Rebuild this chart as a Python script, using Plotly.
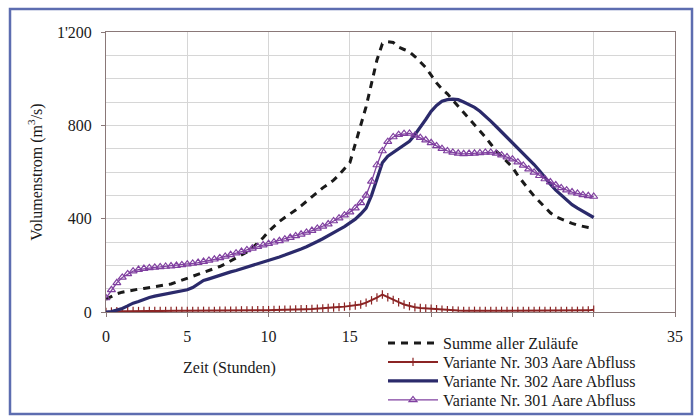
import plotly.graph_objects as go

# Values read every 1/3 hour, t = 0 ... 30 h
summe = [55, 67, 78, 85, 90, 94, 98, 101, 105, 108, 111, 115, 120, 128, 136, 145,
         153, 161, 168, 176, 185, 195, 206, 218, 230, 243, 257, 275, 295, 318, 345,
         368, 388, 405, 420, 437, 455, 475, 495, 515, 532, 548, 565, 588, 612, 640,
         720, 800, 880, 980, 1080, 1150, 1158, 1155, 1135, 1125, 1115, 1095, 1072, 1048, 1015,
         982, 955, 935, 908, 882, 855, 828, 802, 780, 750, 720, 690, 668, 645, 620,
         585, 553, 525, 497, 472, 450, 425, 408, 398, 388, 380, 372, 366, 362, 358]

v303 = [0, 2, 3, 3, 3, 4, 4, 4, 4, 4, 5, 5, 5, 5, 5, 5,
        5, 5, 5, 5, 5, 6, 6, 6, 6, 7, 7, 7, 8, 8, 8,
        9, 9, 10, 10, 11, 12, 12, 13, 14, 15, 17, 19, 21, 23, 25,
        28, 32, 40, 50, 62, 75, 63, 52, 42, 32, 25, 20, 17, 15, 14,
        12, 10, 8, 7, 6, 5, 5, 5, 5, 5, 5, 5, 5, 5, 5,
        5, 5, 5, 5, 5, 5, 5, 5, 5, 5, 5, 5, 6, 7, 10]

v302 = [0, 2, 8, 15, 26, 38, 45, 54, 62, 68, 73, 78, 82, 86, 90, 95,
        105, 120, 135, 142, 150, 158, 165, 172, 178, 185, 192, 198, 205, 212, 220,
        228, 236, 244, 252, 260, 270, 280, 290, 302, 314, 326, 340, 353, 366, 380,
        398, 420, 445, 500, 575, 640, 668, 685, 700, 715, 732, 760, 790, 825, 860,
        885, 903, 910, 912, 910, 900, 890, 877, 860, 840, 818, 795, 772, 748, 725,
        702, 678, 655, 632, 605, 575, 548, 522, 500, 480, 460, 445, 431, 418, 405]

v301 = [60, 95, 125, 148, 163, 175, 182, 186, 189, 191, 193, 195, 197, 199, 202, 205,
        208, 212, 216, 221, 226, 232, 238, 245, 252, 259, 266, 273, 280, 287, 293,
        299, 305, 312, 319, 326, 333, 341, 349, 358, 367, 377, 390, 402, 415, 428,
        445, 468, 500, 560, 630, 690, 730, 750, 760, 764, 765, 757, 747, 737, 725,
        712, 700, 690, 684, 680, 678, 679, 680, 682, 684, 684, 680, 672, 664, 655,
        642, 628, 612, 598, 584, 570, 557, 544, 532, 522, 514, 508, 502, 498, 495]

zeit = [k / 3 for k in range(len(v301))]

series_names = ["Summe aller Zuläufe", "Variante Nr. 303 Aare Abfluss",
                "Variante Nr. 302 Aare Abfluss", "Variante Nr. 301 Aare Abfluss"]

y_tickvals = [0, 400, 800, 1200]
y_ticktext = ["0", "400", "800", "1'200"]
x_tickvals = [0, 5, 10, 15, 20, 25, 30, 35]
x_ticktext = ["0", "5", "10", "15", "", "", "", "35"]

SERIF = "Liberation Serif, Times New Roman, serif"

fig = go.Figure()
fig.add_trace(go.Scatter(x=zeit, y=summe, mode="lines", name=series_names[0], legend="legend",
                         line=dict(color="#1a1a1a", width=3, dash="7px,6px")))
fig.add_trace(go.Scatter(x=zeit, y=v303, mode="lines+markers", name=series_names[1], legend="legend2",
                         line=dict(color="#8b2424", width=2),
                         marker=dict(symbol="line-ns-open", size=6,
                                     line=dict(color="#8b2424", width=1.2))))
fig.add_trace(go.Scatter(x=zeit, y=v302, mode="lines", name=series_names[2], legend="legend3",
                         line=dict(color="#2b2a6b", width=3.2)))
fig.add_trace(go.Scatter(x=zeit, y=v301, mode="lines+markers", name=series_names[3], legend="legend4",
                         line=dict(color="#8040a0", width=1.3),
                         marker=dict(symbol="triangle-up-open", size=7,
                                     color="#8040a0", line=dict(color="#8040a0", width=1.2))))

L, R, T, B = 106, 21, 32, 107
W, H = 696, 419
pw, ph = W - L - R, H - T - B

def px_x(p):
    return (p - L) / pw

def px_y(p):
    return (H - B - p) / ph

def leg(row_y):
    return dict(xref="container", yref="container",
                x=383 / W, y=1 - row_y / H, xanchor="left", yanchor="middle",
                bgcolor="rgba(0,0,0,0)", borderwidth=0, itemwidth=50,
                font=dict(family=SERIF, size=16, color="#1a1a1a"))

fig.update_layout(
    width=W, height=H,
    margin=dict(l=L, r=R, t=T, b=B, autoexpand=False),
    paper_bgcolor="white", plot_bgcolor="white",
    font=dict(family=SERIF, size=16, color="#1a1a1a"),
    showlegend=True,
    legend=leg(343), legend2=leg(362), legend3=leg(381), legend4=leg(400),
    xaxis=dict(range=[0, 35], tickvals=x_tickvals, ticktext=x_ticktext, showgrid=True,
               gridcolor="#d6d6d6", gridwidth=1, zeroline=False,
               showline=True, linecolor="#8a7878", linewidth=1, mirror=True,
               ticks="outside", ticklen=4, tickcolor="#8a7878",
               ticklabelstandoff=6,
               tickfont=dict(family=SERIF, size=16)),
    yaxis=dict(range=[0, 1200], tickvals=y_tickvals, ticktext=y_ticktext,
               showgrid=True, gridcolor="#d6d6d6", gridwidth=1, zeroline=False,
               minor=dict(dtick=100, showgrid=True, gridcolor="#d6d6d6", gridwidth=1),
               showline=True, linecolor="#8a7878", linewidth=1, mirror=True,
               ticks="outside", ticklen=4, tickcolor="#8a7878",
               ticklabelstandoff=6,
               tickfont=dict(family=SERIF, size=16),
               title=dict(text="Volumenstrom (m<sup>3</sup>/s)", standoff=10,
                          font=dict(family=SERIF, size=16))),
    annotations=[dict(text="Zeit (Stunden)", xref="paper", yref="paper",
                      x=px_x(229), y=px_y(368), xanchor="center", yanchor="middle",
                      showarrow=False, font=dict(family=SERIF, size=16))],
    shapes=[dict(type="rect", xref="paper", yref="paper",
                 x0=px_x(10), x1=px_x(692), y0=px_y(414), y1=px_y(9),
                 line=dict(color="#5d6db0", width=2.5), layer="below")],
)

fig.write_html("out.html")
